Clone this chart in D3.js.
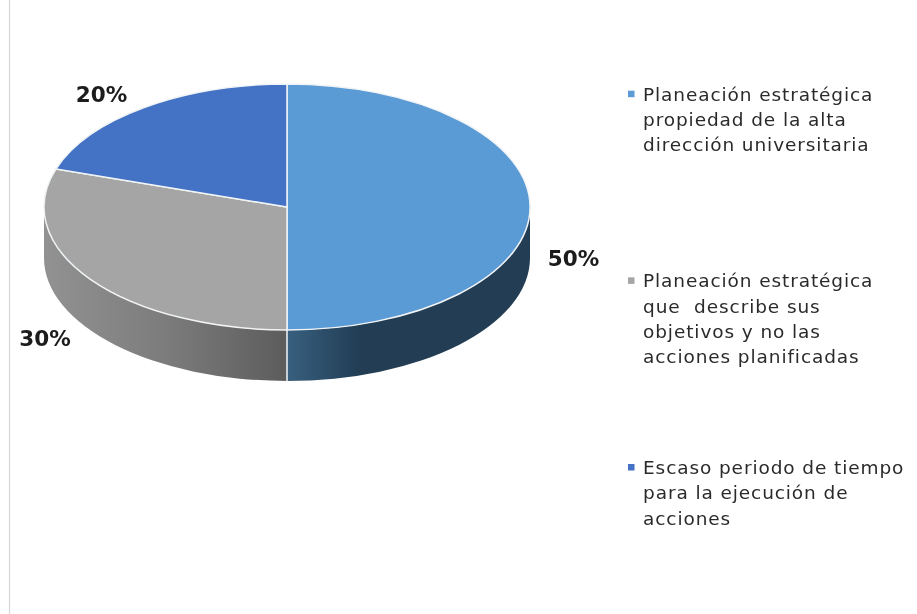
<!DOCTYPE html>
<html>
<head>
<meta charset="utf-8">
<script src="https://cdn.jsdelivr.net/npm/d3@7"></script>
<style>
html, body { margin: 0; padding: 0; background: #fff; }
svg { display: block; }
text { font-family: "DejaVu Sans", sans-serif; }
</style>
</head>
<body>
<svg width="917" height="614"></svg>
<script>
var categories = ["propiedad", "objetivos", "periodo"];
var percents = [50, 30, 20];
var legendLines = [
    ["Planeación estratégica", "propiedad de la alta", "dirección universitaria"],
    ["Planeación estratégica", "que  describe sus", "objetivos y no las", "acciones planificadas"],
    ["Escaso periodo de tiempo", "para la ejecución de", "acciones"]
];
var topColors = ["#5b9bd5", "#a5a5a5", "#4472c4"];
var sideStops = [
    [["0%", "#38607f"], ["30%", "#223d54"], ["100%", "#223d54"]],
    [["0%", "#929292"], ["50%", "#7c7c7c"], ["100%", "#5c5c5c"]]
];

var svg = d3.select("svg"),
    width = +svg.attr("width"),
    height = +svg.attr("height");

var cx = 287, cy = 207, rx = 243, ry = 123, depth = 51;
var squash = ry / rx;

// left rule of the original page
svg.append("line")
    .attr("x1", 9.5).attr("x2", 9.5)
    .attr("y1", 0).attr("y2", height)
    .attr("stroke", "#d8d8d8")
    .attr("stroke-width", 1.2);

var defs = svg.append("defs");
var soft = defs.append("filter").attr("id", "soft");
soft.append("feGaussianBlur").attr("stdDeviation", 0.45);

var pie = d3.pie().sort(null).value(function(d) { return d; });
var slices = pie(percents);

var arc = d3.arc().innerRadius(0).outerRadius(rx);

var g = svg.append("g")
    .attr("transform", "translate(" + cx + "," + cy + ") scale(1," + squash + ")");

// side walls, only the front half of the ellipse shows
function sidePath(a0, a1) {
    var p = d3.path(), h = depth / squash;
    var s0 = a0 - Math.PI / 2, s1 = a1 - Math.PI / 2;
    p.moveTo(rx * Math.cos(s0), rx * Math.sin(s0));
    p.arc(0, 0, rx, s0, s1);
    p.lineTo(rx * Math.cos(s1), rx * Math.sin(s1) + h);
    p.arc(0, h, rx, s1, s0, true);
    p.closePath();
    return p.toString();
}

slices.forEach(function(d, i) {
    var a0 = Math.max(d.startAngle, Math.PI / 2),
        a1 = Math.min(d.endAngle, Math.PI * 1.5);
    if (a1 <= a0) return;

    var grad = defs.append("linearGradient")
        .attr("id", "side" + i)
        .attr("gradientUnits", "userSpaceOnUse")
        .attr("x1", i == 0 ? 0 : -rx).attr("x2", i == 0 ? rx : 0)
        .attr("y1", 0).attr("y2", 0);
    sideStops[i].forEach(function(s) {
        grad.append("stop").attr("offset", s[0]).attr("stop-color", s[1]);
    });

    g.append("path")
        .attr("d", sidePath(a0, a1))
        .attr("fill", "url(#side" + i + ")");
});

// seam between the two walls
g.append("line")
    .attr("x1", 0).attr("x2", 0)
    .attr("y1", rx).attr("y2", rx + depth / squash)
    .attr("stroke", "#e8eef2")
    .attr("stroke-width", 1.6)
    .style("vector-effect", "non-scaling-stroke");

g.selectAll(".slice")
    .data(slices)
    .enter().append("path")
    .attr("class", "slice")
    .attr("d", arc)
    .attr("fill", function(d, i) { return topColors[i]; })
    .attr("stroke", "#f1f4f6")
    .attr("stroke-width", 1.5)
    .style("vector-effect", "non-scaling-stroke");

// percent labels, placed around the ellipse from the mid angle
var labelRadius = 1.2;
var labelNudge = [[-5, 51], [-6, 45], [-14, 7]];

svg.selectAll(".pct")
    .data(slices)
    .enter().append("text")
    .attr("class", "pct")
    .attr("x", function(d, i) {
        var m = (d.startAngle + d.endAngle) / 2;
        return cx + Math.sin(m) * rx * labelRadius + labelNudge[i][0];
    })
    .attr("y", function(d, i) {
        var m = (d.startAngle + d.endAngle) / 2;
        return cy - Math.cos(m) * ry * labelRadius + labelNudge[i][1];
    })
    .attr("dy", "0.36em")
    .attr("text-anchor", "middle")
    .attr("font-size", 21.5)
    .attr("font-weight", "bold")
    .attr("fill", "#1a1a1a")
    .attr("filter", "url(#soft)")
    .text(function(d) { return d.data + "%"; });

// legend
var legendY = d3.scalePoint().domain(categories).range([100.7, 474]);
var lineHeight = 25.3;

var legend = svg.selectAll(".legend")
    .data(categories)
    .enter().append("g")
    .attr("class", "legend")
    .attr("transform", function(d) { return "translate(643," + legendY(d) + ")"; })
    .attr("filter", "url(#soft)");

legend.append("rect")
    .attr("x", -15).attr("y", -10)
    .attr("width", 6.5).attr("height", 6.5)
    .attr("fill", function(d, i) { return topColors[i]; });

legend.each(function(d, i) {
    var t = d3.select(this).append("text")
        .attr("font-size", 18.5)
        .attr("letter-spacing", 0.9)
        .attr("fill", "#2b2b2b")
        .style("white-space", "pre");
    legendLines[i].forEach(function(line, j) {
        t.append("tspan")
            .attr("x", 0)
            .attr("y", j * lineHeight)
            .text(line);
    });
});
</script>
</body>
</html>
